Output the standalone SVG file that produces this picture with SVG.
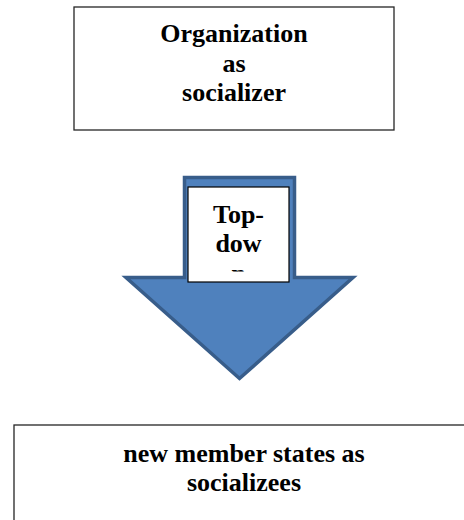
<svg xmlns="http://www.w3.org/2000/svg" width="464" height="520" viewBox="0 0 464 520">
  <style>
    .box { fill: #ffffff; stroke: #262626; stroke-width: 1.3; }
    .label { font-family: "Liberation Serif", "Times New Roman", serif; font-weight: bold; font-size: 26px; fill: #000000; text-anchor: middle; }
    .arrow { fill: #4F81BD; stroke: #385D8A; stroke-width: 3.5; stroke-linejoin: miter; }
  </style>
  <defs>
    <!-- inner text area of the arrow label; the third line overflows and is cut off -->
    <clipPath id="innerClip">
      <rect x="188" y="187" width="101" height="84.5"/>
    </clipPath>
  </defs>

  <rect width="464" height="520" fill="#ffffff"/>

  <g id="organization">
    <rect class="box" x="74" y="7" width="320" height="123"/>
    <text class="label" x="234" y="42">Organization</text>
    <text class="label" x="234" y="72">as</text>
    <text class="label" x="234" y="101">socializer</text>
  </g>

  <g id="connectors">
    <g id="top-down-arrow">
      <path class="arrow" d="M184.5,177.5 H294.5 V277.5 H353 L239.5,378.5 L126,277.5 H184.5 Z"/>
      <rect x="188" y="187" width="101" height="95" fill="#ffffff" stroke="#000000" stroke-width="1.2"/>
      <g clip-path="url(#innerClip)">
        <text class="label" x="238.5" y="223">Top-</text>
        <text class="label" x="238.5" y="252">dow</text>
        <text class="label" x="238.5" y="282">n</text>
      </g>
    </g>
  </g>

  <g id="member-states">
    <rect class="box" x="14" y="425" width="470" height="110"/>
    <text class="label" x="244" y="462">new member states as</text>
    <text class="label" x="244" y="491">socializees</text>
  </g>
</svg>
